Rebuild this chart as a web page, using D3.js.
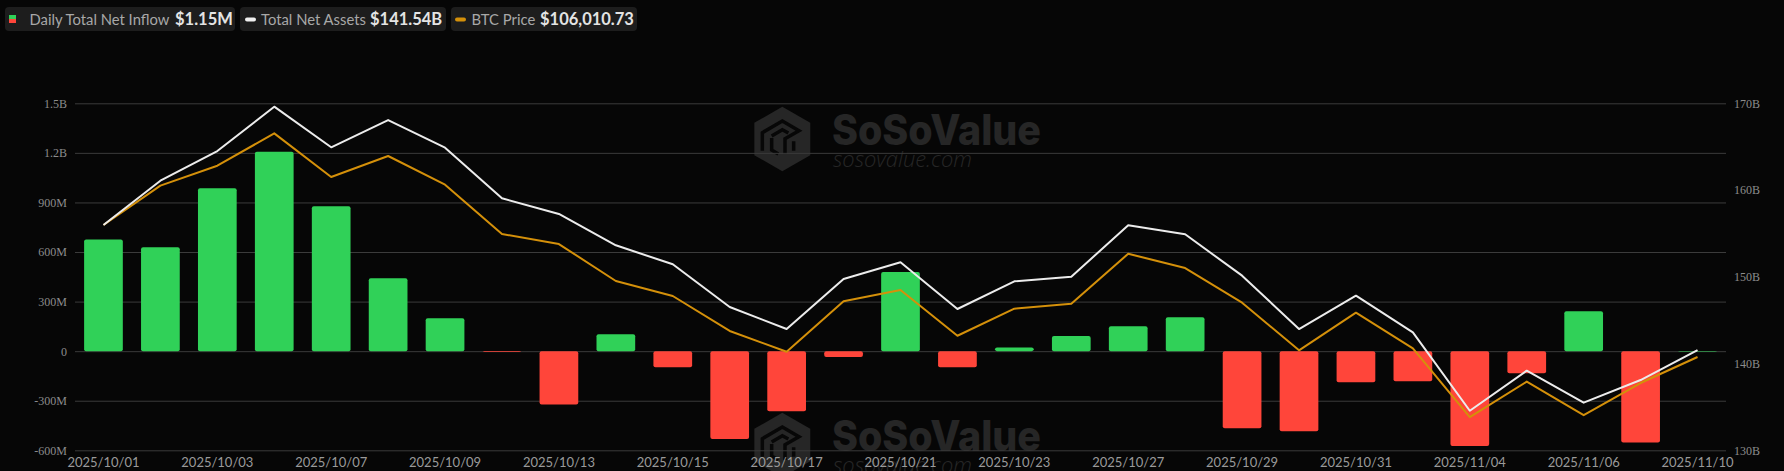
<!DOCTYPE html>
<html>
<head>
<meta charset="utf-8">
<script src="https://cdn.jsdelivr.net/npm/d3@7/dist/d3.min.js"></script>
<style>
  html, body { margin: 0; padding: 0; background: #060606; }
  svg { display: block; }
</style>
</head>
<body>
<div id="chart"></div>
<script>
// trading days
var dates = ["2025/10/01","2025/10/02","2025/10/03","2025/10/06","2025/10/07","2025/10/08","2025/10/09","2025/10/10",
  "2025/10/13","2025/10/14","2025/10/15","2025/10/16","2025/10/17","2025/10/20","2025/10/21","2025/10/22","2025/10/23",
  "2025/10/24","2025/10/27","2025/10/28","2025/10/29","2025/10/30","2025/10/31","2025/11/03","2025/11/04","2025/11/05",
  "2025/11/06","2025/11/07","2025/11/10"];

// daily total net inflow, millions USD
var netInflow = [675, 629, 986, 1207, 877, 441, 199, -4.5, -323, 103, -97, -532, -363, -36, 479, -97, 22,
  92, 151, 205, -467, -485, -188, -182, -574, -133, 242, -553, 1.15];

// total net assets, billions USD
var totalNetAssets = [155.97, 161.08, 164.50, 169.61, 164.93, 168.07, 164.88, 159.05, 157.24, 153.63, 151.44,
  146.52, 143.98, 149.75, 151.67, 146.29, 149.48, 150.01, 155.94, 154.90, 150.13, 143.98, 147.82, 143.60,
  134.56, 139.18, 135.49, 138.10, 141.54];

// BTC price, USD
var btcPrice = [116500, 119630, 121220, 123790, 120320, 121990, 119710, 115790, 114990, 112050, 110860,
  108080, 106430, 110440, 111340, 107700, 109850, 110250, 114220, 113080, 110330, 106540, 109530, 106700,
  101220, 104050, 101380, 103940, 106010.73];

var leftTicks = [-600, -300, 0, 300, 600, 900, 1200, 1500];
var rightTicks = [130, 140, 150, 160, 170];
var priceRange = [98590, 126180]; // hidden axis for the BTC line

var W = 1784, H = 471;
var margin = {top: 103.3, right: 58, bottom: 20.7, left: 75};
var width = W - margin.left - margin.right;
var height = H - margin.top - margin.bottom;

var svg = d3.select("#chart").append("svg")
  .attr("width", W).attr("height", H);

svg.append("rect").attr("width", W).attr("height", H).attr("fill", "#060606");

// watermark (two copies, second one cut off at the bottom)
function watermark(g) {
  var wm = "#262626";
  var cx = 782.3, cy = 139, r = 32.3;
  var hex = d3.range(6).map(function(i) {
    var a = Math.PI / 3 * i - Math.PI / 2;
    return [cx + r * Math.cos(a), cy + r * Math.sin(a)];
  });
  g.append("path").attr("d", "M" + hex.join("L") + "Z").attr("fill", wm);
  // inner isometric "S" cut out of the hexagon
  var p = function(px, py) { return (745 + px / 3) + "," + (100 + py / 3); };
  g.append("path")
    .attr("d", "M" + p(52, 152) + "L" + p(52, 98) + "L" + p(112, 63) + "L" + p(162, 92) +
      "L" + p(120, 116) + "L" + p(120, 162) +
      "M" + p(80, 108) + "L" + p(112, 89) + "L" + p(130, 99) +
      "M" + p(80, 114) + "L" + p(80, 150) + "L" + p(100, 162) +
      "M" + p(146, 124) + "L" + p(146, 152))
    .attr("fill", "none").attr("stroke", "#070707").attr("stroke-width", 3.5)
    .attr("stroke-linejoin", "miter");
  g.append("text").attr("x", 832).attr("y", 145)
    .attr("textLength", 209).attr("lengthAdjust", "spacingAndGlyphs")
    .style("font-family", "Inter, 'Open Sans', sans-serif").style("font-weight", 800)
    .style("font-size", "42px").attr("fill", wm).text("SoSoValue");
  g.append("text").attr("x", 833).attr("y", 167)
    .attr("textLength", 139).attr("lengthAdjust", "spacingAndGlyphs")
    .style("font-family", "'Open Sans', sans-serif").style("font-style", "italic").style("font-weight", 300)
    .style("font-size", "22px").attr("fill", wm).text("sosovalue.com");
}
watermark(svg.append("g"));
watermark(svg.append("g").attr("transform", "translate(0,306)"));

var g = svg.append("g").attr("transform", "translate(" + margin.left + "," + margin.top + ")");

var x = d3.scaleBand().domain(dates).range([0, width]).paddingInner(0.32).paddingOuter(0.16);
var yLeft = d3.scaleLinear().domain([-600, 1500]).range([height, 0]);
var yRight = d3.scaleLinear().domain([130, 170]).range([height, 0]);
var yPrice = d3.scaleLinear().domain(priceRange).range([height, 0]);

function fmtLeft(v) {
  if (v === 0) return "0";
  return Math.abs(v) >= 1000 ? (v / 1000) + "B" : v + "M";
}

// left axis + grid
var gl = g.append("g")
  .call(d3.axisLeft(yLeft).tickValues(leftTicks).tickFormat(fmtLeft).tickSize(-width).tickPadding(8));
gl.select(".domain").remove();
gl.selectAll(".tick line").attr("stroke", "#3b3b3b").attr("stroke-width", 1);
gl.selectAll(".tick text").attr("fill", "#8c8c8c")
  .style("font-family", "'Liberation Serif', 'DejaVu Serif', serif").style("font-size", "12px");

// right axis (labels only)
var gr = g.append("g").attr("transform", "translate(" + width + ",0)")
  .call(d3.axisRight(yRight).tickValues(rightTicks).tickFormat(function(v) { return v + "B"; })
    .tickSize(0).tickPadding(8));
gr.select(".domain").remove();
gr.selectAll(".tick text").attr("fill", "#8c8c8c")
  .style("font-family", "'Liberation Serif', 'DejaVu Serif', serif").style("font-size", "12px");

// x axis
var gx = g.append("g").attr("transform", "translate(0," + height + ")")
  .call(d3.axisBottom(x).tickValues(dates.filter(function(d, i) { return i % 2 === 0; }))
    .tickSize(0).tickPadding(7.5));
gx.select(".domain").remove();
gx.selectAll(".tick text").attr("fill", "#9a9a9a")
  .style("font-family", "Lato, 'Open Sans', sans-serif").style("font-size", "13px");

// bars
g.selectAll("rect.bar")
  .data(netInflow)
  .enter().append("rect")
  .attr("class", "bar")
  .attr("x", function(d, i) { return x(dates[i]); })
  .attr("width", x.bandwidth())
  .attr("y", function(d) { return d >= 0 ? yLeft(d) : yLeft(0); })
  .attr("height", function(d) { return Math.max(Math.abs(yLeft(d) - yLeft(0)), 0.6); })
  .attr("rx", 2)
  .attr("fill", function(d) { return d >= 0 ? "#30d158" : "#ff453a"; });

// lines
var cx = function(i) { return x(dates[i]) + x.bandwidth() / 2; };

g.append("path")
  .datum(btcPrice)
  .attr("fill", "none").attr("stroke", "#d4900a").attr("stroke-width", 2).attr("stroke-linejoin", "round")
  .attr("d", d3.line().x(function(d, i) { return cx(i); }).y(function(d) { return yPrice(d); }));

g.append("path")
  .datum(totalNetAssets)
  .attr("fill", "none").attr("stroke", "#ececec").attr("stroke-width", 2).attr("stroke-linejoin", "round")
  .attr("d", d3.line().x(function(d, i) { return cx(i); }).y(function(d) { return yRight(d); }));

// legend pills
var legendItems = [
  {label: "Daily Total Net Inflow", value: "$1.15M", x0: 5, x1: 235, tx: 29.5, vx: 175, icon: "split"},
  {label: "Total Net Assets", value: "$141.54B", x0: 240, x1: 446, tx: 261, vx: 370, icon: "#f0f0f0", ix: 245},
  {label: "BTC Price", value: "$106,010.73", x0: 451, x1: 637, tx: 471.5, vx: 540, icon: "#d4900a", ix: 455}
];

var lg = svg.append("g").attr("class", "legend");
legendItems.forEach(function(it) {
  lg.append("rect").attr("x", it.x0).attr("y", 7).attr("width", it.x1 - it.x0).attr("height", 24)
    .attr("rx", 4).attr("fill", "#1d1d1d");
  if (it.icon === "split") {
    lg.append("rect").attr("x", 9).attr("y", 15).attr("width", 7).attr("height", 4).attr("fill", "#30d158");
    lg.append("rect").attr("x", 9).attr("y", 19).attr("width", 7).attr("height", 4).attr("fill", "#ff453a");
  } else {
    lg.append("rect").attr("x", it.ix).attr("y", 17.5).attr("width", 11).attr("height", 4)
      .attr("rx", 2).attr("fill", it.icon);
  }
  lg.append("text").attr("x", it.tx).attr("y", 24.5)
    .style("font-family", "Lato, 'Open Sans', sans-serif").style("font-size", "14.8px")
    .attr("fill", "#a8a8a8").text(it.label);
  lg.append("text").attr("x", it.vx).attr("y", 24.5)
    .style("font-family", "Lato, 'Open Sans', sans-serif").style("font-size", "16.5px").style("font-weight", 700)
    .attr("fill", "#e4e4e4").text(it.value);
});
</script>
</body>
</html>
